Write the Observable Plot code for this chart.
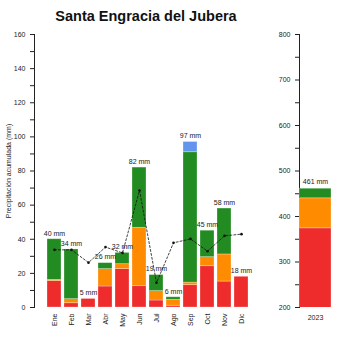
<!DOCTYPE html>
<html>
<head>
<meta charset="utf-8">
<script src="https://cdn.jsdelivr.net/npm/d3@7"></script>
<script src="https://cdn.jsdelivr.net/npm/@observablehq/plot@0.6"></script>
<style>
  html, body { margin: 0; padding: 0; background: #fff; }
  #wrap { position: relative; width: 350px; height: 350px; overflow: hidden; font-family: "Liberation Sans", Arial, sans-serif; }
  #title { position: absolute; left: 0; width: 292px; top: 8px; text-align: center; font-weight: bold; font-size: 14.5px; color: #111; }
  #left { position: absolute; left: 0; top: 0; }
  #right { position: absolute; left: 262px; top: 0; }
</style>
</head>
<body>
<div id="wrap">
  <div id="left"></div>
  <div id="right"></div>
  <div id="title">Santa Engracia del Jubera</div>
</div>
<script>
const months = ["Ene","Feb","Mar","Abr","May","Jun","Jul","Ago","Sep","Oct","Nov","Dic"];
const red    = [15.5, 2.5, 5, 12.3, 22.5, 12.5, 4.1, 1.0, 13.1, 24.2, 15.2, 18];
const orange = [0.7, 2.4, 0, 10.2, 2.9, 34.2, 5.5, 3.5, 1.5, 5.3, 15.9, 0];
const green  = [23.8, 29.1, 0, 3.5, 6.6, 35.3, 9.4, 1.5, 76.4, 15.5, 26.9, 0];
const blue   = [0, 0, 0, 0, 0, 0, 0, 0, 6.0, 0, 0, 0];
const totals = [40, 34, 5, 26, 32, 82, 19, 6, 97, 45, 58, 18];
const avgLine = [33.8, 33.8, 26.3, 35.4, 32, 68.6, 14.5, 37.9, 40.2, 33, 42, 43];

const yearLabel = ["2023"];
const yearRed = [374];
const yearOrange = [66];
const yearGreen = [21];
const yearTotal = [461];

const seriesNames = ["s1", "s2", "s3", "s4"];
const seriesColors = ["#EE2C2C", "#FF8C00", "#228B22", "#6495ED"];

const rows = [];
months.forEach((m, i) => {
  [red, orange, green, blue].forEach((arr, k) => {
    rows.push({month: m, serie: seriesNames[k], value: arr[i]});
  });
});
const totalRows = months.map((m, i) => ({month: m, total: totals[i], avg: avgLine[i]}));

const yearRows = [];
[yearRed, yearOrange, yearGreen].forEach((arr, k) => {
  yearRows.push({year: yearLabel[0], serie: seriesNames[k], value: arr[0]});
});

const fontFam = "Liberation Sans, Arial, sans-serif";

const left = Plot.plot({
  width: 262,
  height: 350,
  marginLeft: 34,
  marginRight: 6,
  marginTop: 34,
  marginBottom: 43,
  style: {fontFamily: fontFam, fontSize: "7px", color: "#222", background: "transparent"},
  x: {domain: months, padding: 0.15, insetLeft: 6, axis: null},
  y: {domain: [0, 160], axis: null},
  color: {domain: seriesNames, range: seriesColors},
  marks: [
    Plot.frame({anchor: "left", stroke: "#222"}),
    Plot.axisY({ticks: d3.range(0, 161, 20), tickSize: 4, fontSize: 7, label: "Precipitación acumulada (mm)", labelAnchor: "center", labelOffset: 28, labelArrow: "none"}),
    Plot.axisY({ticks: d3.range(10, 160, 20), tickSize: 4, tickFormat: () => "", label: null}),
    Plot.axisX({tickSize: 0, tickRotate: -90, fontSize: 7, tickPadding: 6, label: null}),
    Plot.barY(rows, Plot.stackY({x: "month", y: "value", fill: "serie", order: seriesNames, stroke: "white", strokeOpacity: 0.35, strokeWidth: 0.8})),
    Plot.text(totalRows, {x: "month", y: "total", text: d => `${d.total} mm`, dy: -6, fontSize: 7, fill: "#222"}),
    Plot.line(totalRows, {x: "month", y: "avg", stroke: "#111", strokeWidth: 0.8, strokeDasharray: "2,2"}),
    Plot.dot(totalRows, {x: "month", y: "avg", r: 1.3, fill: "#111"})
  ]
});
document.getElementById("left").appendChild(left);

const right = Plot.plot({
  width: 88,
  height: 350,
  marginLeft: 37,
  marginRight: 19,
  marginTop: 34,
  marginBottom: 43,
  style: {fontFamily: fontFam, fontSize: "7px", color: "#222", background: "transparent"},
  x: {domain: yearLabel, padding: 0, axis: null},
  y: {domain: [200, 800], axis: null},
  color: {domain: seriesNames, range: seriesColors},
  marks: [
    Plot.frame({anchor: "left", stroke: "#222"}),
    Plot.axisY({ticks: d3.range(200, 801, 100), tickSize: 4, fontSize: 7, label: null}),
    Plot.axisY({ticks: d3.range(250, 800, 100), tickSize: 4, tickFormat: () => "", label: null}),
    Plot.axisX({tickSize: 0, fontSize: 7, tickPadding: 8, label: null}),
    Plot.barY(yearRows, Plot.stackY({x: "year", y: "value", fill: "serie", order: seriesNames, clip: true, stroke: "white", strokeOpacity: 0.35, strokeWidth: 0.8})),
    Plot.text(yearTotal.map((t, i) => ({year: yearLabel[i], total: t})), {x: "year", y: "total", text: d => `${d.total} mm`, dy: -7, fontSize: 7, fill: "#222"})
  ]
});
document.getElementById("right").appendChild(right);
</script>
</body>
</html>
